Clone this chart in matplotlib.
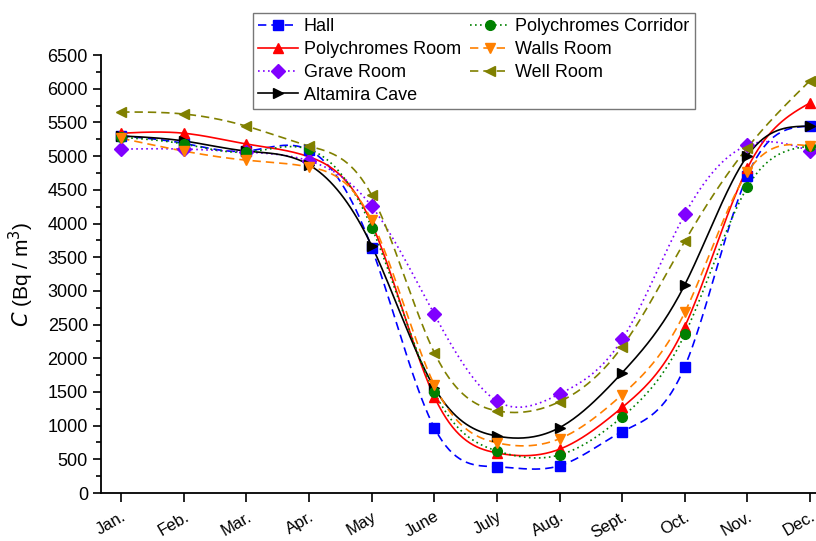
import numpy as np
import matplotlib
matplotlib.use("Agg")
import matplotlib.pyplot as plt
import matplotlib.transforms as mtransforms

plt.rcParams['font.family'] = ['Liberation Sans', 'DejaVu Sans']

months = ["Jan.", "Feb.", "Mar.", "Apr.", "May", "June", "July", "Aug.", "Sept.", "Oct.", "Nov.", "Dec."]

hall = [5300, 5190, 5075, 5090, 3640, 970, 390, 405, 910, 1875, 4710, 5445]
poly_room = [5340, 5340, 5180, 4990, 4000, 1430, 595, 650, 1270, 2470, 4820, 5790]
grave_room = [5105, 5105, 5060, 4930, 4255, 2650, 1365, 1470, 2280, 4135, 5160, 5080]
altamira = [5300, 5225, 5075, 4870, 3670, 1565, 845, 970, 1785, 3090, 5005, 5445]
poly_corr = [5280, 5180, 5060, 5100, 3940, 1500, 625, 565, 1130, 2355, 4540, 5150]
walls_room = [5265, 5075, 4940, 4840, 4045, 1605, 745, 805, 1460, 2680, 4760, 5150]
well_room = [5655, 5625, 5445, 5150, 4420, 2085, 1220, 1355, 2172, 3735, 5125, 6120]

series = [
    ("Hall", hall, "#0000FF", (0, (5, 3)), "s"),
    ("Polychromes Room", poly_room, "#FF0000", "-", "^"),
    ("Grave Room", grave_room, "#8000FF", (0, (1, 2)), "D"),
    ("Altamira Cave", altamira, "#000000", "-", ">"),
    ("Polychromes Corridor", poly_corr, "#008000", (0, (1, 2)), "o"),
    ("Walls Room", walls_room, "#FF8000", (0, (5, 3)), "v"),
    ("Well Room", well_room, "#808000", (0, (5, 3)), "<"),
]


def natural_spline(x, y, xs):
    x = np.asarray(x, float)
    y = np.asarray(y, float)
    n = len(x)
    h = np.diff(x)
    A = np.zeros((n, n))
    b = np.zeros(n)
    A[0, 0] = 1
    A[-1, -1] = 1
    for i in range(1, n - 1):
        A[i, i - 1] = h[i - 1]
        A[i, i] = 2 * (h[i - 1] + h[i])
        A[i, i + 1] = h[i]
        b[i] = 3 * ((y[i + 1] - y[i]) / h[i] - (y[i] - y[i - 1]) / h[i - 1])
    c = np.linalg.solve(A, b)
    bb = np.zeros(n - 1)
    d = np.zeros(n - 1)
    for i in range(n - 1):
        bb[i] = (y[i + 1] - y[i]) / h[i] - h[i] * (2 * c[i] + c[i + 1]) / 3
        d[i] = (c[i + 1] - c[i]) / (3 * h[i])
    idx = np.clip(np.searchsorted(x, xs) - 1, 0, n - 2)
    dx = xs - x[idx]
    return y[idx] + bb[idx] * dx + c[idx] * dx ** 2 + d[idx] * dx ** 3


fig = plt.figure(figsize=(8.16, 5.41), dpi=100)
ax = fig.add_axes([0.124, 0.0887, 0.876, 0.8095])

x = np.arange(len(months))
xs = np.linspace(0, len(months) - 1, 400)
handles = []
for name, vals, col, ls, mk in series:
    ys = natural_spline(x, vals, xs)
    ax.plot(xs, ys, color=col, linestyle=ls, lw=1.2, zorder=2)
    ax.plot(x, vals, linestyle="none", marker=mk, color=col, markersize=7, zorder=3, clip_on=False)
    h, = ax.plot([], [], color=col, linestyle=ls, lw=1.2, marker=mk, markersize=7, label=name)
    handles.append(h)

ax.set_xlim(-0.32, 11.096)
ax.set_ylim(0, 6500)
ax.set_yticks(np.arange(0, 6501, 500))
ax.set_yticks(np.arange(250, 6500, 500), minor=True)
ax.set_xticks(x)
ax.set_xticklabels(months, rotation=30, fontsize=12, ha='right', rotation_mode='anchor')
offset = mtransforms.ScaledTranslation(5 / 72, 0, fig.dpi_scale_trans)
for lbl in ax.get_xticklabels():
    lbl.set_transform(lbl.get_transform() + offset)
ax.tick_params(axis='y', labelsize=13, direction='out', length=6, width=1.2)
ax.tick_params(axis='y', which='minor', length=3.5, width=1.2)
ax.tick_params(axis='x', direction='out', length=6.5, width=1.2, pad=5)
ax.yaxis.grid(True, color="#dddddd", lw=1)
ax.set_axisbelow(True)
for gl in ax.get_ygridlines():
    if abs(gl.get_ydata()[0] - 6500) < 1 or abs(gl.get_ydata()[0]) < 1:
        gl.set_visible(False)
ax.spines['top'].set_visible(False)
ax.spines['right'].set_visible(False)
ax.spines['left'].set_linewidth(1.3)
ax.spines['bottom'].set_linewidth(1.3)
ax.set_ylabel(r"$\it{C}$ (Bq / m$^3$)", fontsize=15, labelpad=8)

leg = fig.legend(handles=handles, ncol=2, loc="upper left", bbox_to_anchor=(253 / 816, 1 - 13 / 541),
                 fontsize=13, frameon=True, fancybox=False, edgecolor="#555555",
                 handlelength=2.2, handletextpad=0.3, columnspacing=0.5, labelspacing=0.32,
                 borderpad=0.3, borderaxespad=0)
leg.get_frame().set_linewidth(1.0)

fig.savefig("out.png", dpi=100)
